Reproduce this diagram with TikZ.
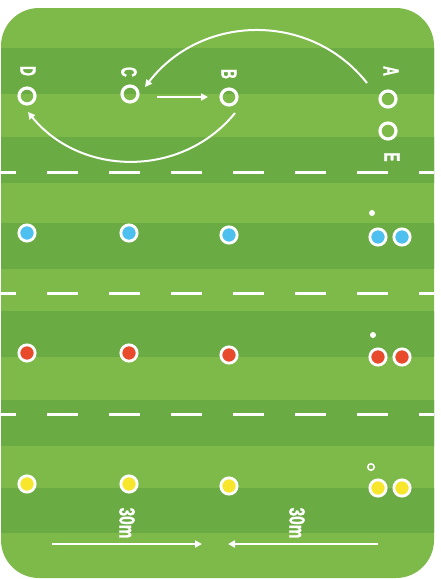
\documentclass[tikz,border=0pt]{standalone}
\usepackage{fontspec}
\usetikzlibrary{arrows.meta}
\newfontfamily\letterfont[FakeStretch=0.62, FakeBold=1.2]{Liberation Sans}
\newfontfamily\distfont[FakeStretch=0.7, FakeBold=1.2]{Liberation Sans}
\definecolor{pitchlight}{RGB}{125,186,73}
\definecolor{pitchdark}{RGB}{106,171,67}
\definecolor{teamblue}{RGB}{78,192,240}
\definecolor{teamred}{RGB}{232,74,44}
\definecolor{teamyellow}{RGB}{247,230,44}
\begin{document}
\begin{tikzpicture}[x=1pt, y=-1pt, >={Triangle[length=7pt,width=7pt]},
    cone/.style={circle, draw=white, line width=3.2pt, minimum size=16pt, inner sep=0pt},
    player/.style={circle, draw=white, fill=#1, line width=2.8pt, minimum size=16.3pt, inner sep=0pt},
    ball/.style={circle, fill=white, minimum size=6pt, inner sep=0pt},
    letter/.style={text=white, rotate=-90, inner sep=0pt, font=\letterfont\bfseries\fontsize{22}{22}\selectfont},
    dist/.style={text=white, rotate=-90, inner sep=0pt, font=\distfont\bfseries\fontsize{22}{22}\selectfont},
    run/.style={white, line width=2pt, ->}]
  \fill[white] (0,0) rectangle (440,579);
  \useasboundingbox (0,0) rectangle (440,579);
  \begin{scope}
    \clip[rounded corners=38pt] (1,8) rectangle (434,578);
    \fill[pitchlight] (0,0) rectangle (440,579);
    \foreach \ya/\yb in {48/94, 137/183, 223/269, 311/357, 400/446, 488/533}
      \fill[pitchdark] (0,\ya) rectangle (440,\yb);
    \foreach \y in {172, 293, 414}
      \draw[white, line width=3pt, dash pattern=on 31pt off 31pt, dash phase=15pt] (0,\y) -- (434,\y);
  \end{scope}

  \node[cone] (d) at (27,96) {};
  \node[cone] (c) at (130,94) {};
  \node[cone] (b) at (229,97) {};
  \node[cone] (a) at (388,99) {};
  \node[cone] (e) at (388,131) {};
  \node[letter] (dlabel) at (28,71) {D};
  \node[letter] (clabel) at (129,72) {C};
  \node[letter] (blabel) at (229,74) {B};
  \node[letter] (alabel) at (391,71) {A};
  \node[letter] (elabel) at (392,157) {E};
  \draw[run] ([shift={(27,3)}]c.center) -- ([shift={(-21,0)}]b.center);
  \draw[run] ([shift={(-21,-16)}]a.center) .. controls (310,11) and (201,14) .. ([shift={(15,-7)}]c.center);
  \draw[run] ([shift={(6,16)}]b.center) .. controls (182,178) and (81,177) .. ([shift={(1,16)}]d.center);

  \foreach \team/\y/\n in {teamblue/233/1, teamred/353/2, teamyellow/484/3} {
    \node[player=\team] (p\n a) at (27,\y) {};
    \node[player=\team] (p\n b) at (129,\y) {};
    \node[player=\team] (p\n c) at (229,\y+2) {};
    \node[player=\team] (p\n d) at (378,\y+4) {};
    \node[player=\team] (p\n e) at (402,\y+4) {};
  }
  \node[ball] (ball1) at (372,213) {};
  \node[ball] (ball2) at (373,335) {};
  \node[circle, draw=white, line width=1.5pt, minimum size=6.5pt, inner sep=0pt] (ball3) at (371,467) {};

  \coordinate (runla) at (52,544);
  \coordinate (runlb) at (202,544);
  \coordinate (runra) at (378,544);
  \coordinate (runrb) at (228,544);
  \draw[run, line width=2.5pt] (runla) -- (runlb);
  \draw[run, line width=2.5pt] (runra) -- (runrb);
  \node[dist] (distl) at (127,523) {30m};
  \node[dist] (distr) at (297,523) {30m};
\end{tikzpicture}
\end{document}
